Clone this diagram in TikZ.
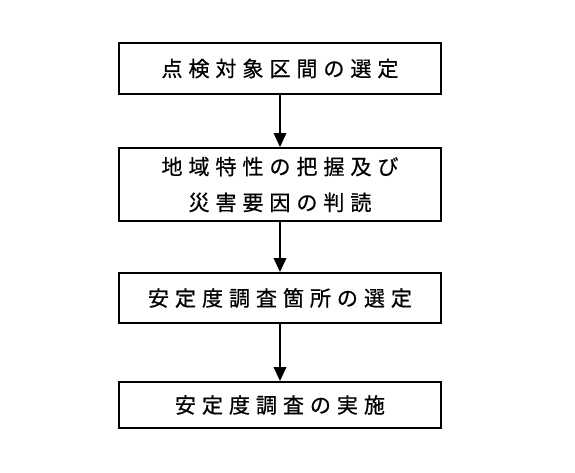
\documentclass[tikz,border=0pt]{standalone}
\usepackage{fontspec}
\usepackage{tikz}
\usetikzlibrary{arrows.meta,positioning}
\newfontfamily\jpfont[LetterSpace=28,FakeBold=0.6]{Noto Sans CJK JP}
\tikzset{
  flowbox/.style={draw=black,line width=1.1pt,fill=white,align=center,
    minimum width=6.44cm,inner sep=0pt,
    font=\jpfont\fontsize{12}{20.4}\selectfont},
  arr/.style={-{Triangle[length=2.8mm,width=2.5mm]},line width=1.1pt,draw=black},
}
\begin{document}
\begin{tikzpicture}[x=0.02cm,y=-0.02cm]
  \useasboundingbox (0,0) rectangle (575,473);
  \node[flowbox,minimum height=1.02cm] (sel) at (280,68.5) {点検対象区間の選定};
  \node[flowbox,minimum height=1.46cm] (area) at (280,184.5) {地域特性の把握及び\\災害要因の判読};
  \node[flowbox,minimum height=1.00cm] (site) at (280,298) {安定度調査箇所の選定};
  \node[flowbox,minimum height=0.92cm] (exec) at (280,405) {安定度調査の実施};
  \draw[arr] (sel)--(area); \draw[arr] (area)--(site); \draw[arr] (site)--(exec);
\end{tikzpicture}
\end{document}
